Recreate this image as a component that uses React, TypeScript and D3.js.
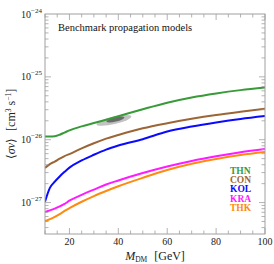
import { useRef, useEffect } from "react";
import * as d3 from "d3";

// dark matter mass grid [GeV]
const masses = [10, 12, 14, 16, 18, 20, 25, 30, 35, 40, 50, 60, 70, 80, 90, 100];

// <sigma v> upper limits, in units of 1e-27 cm^3 s^-1
const thn = [11.3, 11.3, 11.4, 12.0, 13.0, 14.1, 16.3, 18.4, 20.8, 23.6, 30.5, 38.8, 47.0, 54.5, 61.5, 67.6];
const con = [3.56, 4.1, 4.5, 5.0, 5.5, 5.9, 7.3, 8.8, 10.4, 11.9, 15.2, 18.3, 21.5, 24.7, 27.8, 31.0];
const kol = [1.03, 1.71, 2.15, 2.6, 3.08, 3.6, 4.68, 5.76, 6.95, 8.07, 10.2, 13.5, 16.2, 18.8, 21.4, 23.8];
const kra = [0.71, 0.75, 0.8, 0.87, 0.95, 1.07, 1.33, 1.61, 1.94, 2.25, 2.95, 3.75, 4.6, 5.45, 6.3, 7.1];
const thk = [0.505, 0.545, 0.59, 0.655, 0.735, 0.815, 1.03, 1.27, 1.53, 1.82, 2.48, 3.3, 4.15, 4.95, 5.72, 6.38];
const unit = 1e-27;

const modelNames = ["THN", "CON", "KOL", "KRA", "THK"];
const modelValues = [thn, con, kol, kra, thk];
const modelColors = ["#389a38", "#9c6535", "#0a0aff", "#ff1aff", "#ff8a10"];

// best-fit region (GC excess) drawn as an ellipse
const fitMass = 38.2;
const fitSigmaV = 2.03e-26;
const fitCoreMass = 38.8;
const fitCoreSigmaV = 2.1e-26;

const yDecades = [-24, -25, -26, -27];
const xMajor = [20, 40, 60, 80, 100];

const serif = "'Liberation Serif', 'Times New Roman', serif";

export default function App() {
  const svgRef = useRef<SVGSVGElement>(null);

  useEffect(() => {
    if (!svgRef.current) return;
    const svg = d3.select(svgRef.current);
    svg.selectAll("*").remove();

    const width = 274;
    const height = 264;
    const margin = { top: 14, right: 9, bottom: 30, left: 45 };
    const x0 = margin.left;
    const x1 = width - margin.right;
    const y0 = margin.top;
    const y1 = height - margin.bottom;

    const x = d3.scaleLinear().domain([10, 100]).range([x0, x1]);
    const y = d3.scaleLog().domain([Math.pow(10, -27.5), 1e-24]).range([y1, y0]);

    svg.attr("viewBox", `0 0 ${width} ${height}`);

    svg.append("defs")
      .append("clipPath")
      .attr("id", "plot-clip")
      .append("rect")
      .attr("x", x0)
      .attr("y", y0)
      .attr("width", x1 - x0)
      .attr("height", y1 - y0);

    const plot = svg.append("g").attr("clip-path", "url(#plot-clip)");

    // best-fit ellipse
    const cx = x(fitMass);
    const cy = y(fitSigmaV);
    plot.append("ellipse")
      .attr("cx", cx)
      .attr("cy", cy)
      .attr("rx", x(fitMass + 7.3) - cx)
      .attr("ry", y(fitSigmaV / Math.pow(10, 0.06)) - cy)
      .attr("transform", `rotate(-13 ${cx} ${cy})`)
      .attr("fill", "#c2c2c2");
    const ccx = x(fitCoreMass);
    const ccy = y(fitCoreSigmaV);
    plot.append("ellipse")
      .attr("cx", ccx)
      .attr("cy", ccy)
      .attr("rx", x(fitCoreMass + 3.8) - ccx)
      .attr("ry", y(fitCoreSigmaV / Math.pow(10, 0.035)) - ccy)
      .attr("transform", `rotate(-13 ${ccx} ${ccy})`)
      .attr("fill", "#6a6a6a");

    // curves
    const line = d3
      .line<number>()
      .x((_, i) => x(masses[i]))
      .y((d) => y(d * unit))
      .curve(d3.curveMonotoneX);

    modelValues.forEach((vals, i) => {
      plot.append("path")
        .attr("d", line(vals) ?? "")
        .attr("fill", "none")
        .attr("stroke", modelColors[i])
        .attr("stroke-width", 2);
    });

    // frame
    const frameColor = "#a0a0a0";
    svg.append("rect")
      .attr("x", x0)
      .attr("y", y0)
      .attr("width", x1 - x0)
      .attr("height", y1 - y0)
      .attr("fill", "none")
      .attr("stroke", frameColor)
      .attr("stroke-width", 1);

    // y ticks (both sides, pointing inward)
    const isDecade = (v: number) => Math.abs(Math.log10(v) - Math.round(Math.log10(v))) < 1e-6;
    const yTicks = y.ticks();
    yTicks.forEach((v) => {
      const len = isDecade(v) ? 6 : 3.5;
      const py = y(v);
      svg.append("line").attr("x1", x0).attr("x2", x0 + len).attr("y1", py).attr("y2", py)
        .attr("stroke", frameColor).attr("stroke-width", 0.8);
      svg.append("line").attr("x1", x1).attr("x2", x1 - len).attr("y1", py).attr("y2", py)
        .attr("stroke", frameColor).attr("stroke-width", 0.8);
    });

    // x ticks (every 5 GeV, majors at 20s)
    const xTicks = x.ticks(18);
    xTicks.forEach((v) => {
      const len = v % 20 === 0 ? 6 : 3.5;
      const px = x(v);
      svg.append("line").attr("x1", px).attr("x2", px).attr("y1", y1).attr("y2", y1 - len)
        .attr("stroke", frameColor).attr("stroke-width", 0.8);
      svg.append("line").attr("x1", px).attr("x2", px).attr("y1", y0).attr("y2", y0 + len)
        .attr("stroke", frameColor).attr("stroke-width", 0.8);
    });

    // y tick labels
    yDecades.forEach((d) => {
      const t = svg.append("text")
        .attr("x", x0 - 3)
        .attr("y", y(Math.pow(10, d)) + 3.5)
        .attr("text-anchor", "end")
        .attr("font-family", serif)
        .attr("font-size", 10)
        .attr("fill", "#222");
      t.append("tspan").text("10");
      t.append("tspan").attr("dy", -5).attr("font-size", 7).text(`\u2212${-d}`);
    });

    // x tick labels
    xMajor.forEach((v) => {
      svg.append("text")
        .attr("x", x(v))
        .attr("y", y1 + 11)
        .attr("text-anchor", "middle")
        .attr("font-family", serif)
        .attr("font-size", 10)
        .attr("fill", "#222")
        .text(v);
    });

    // x axis label
    const xl = svg.append("text")
      .attr("x", (x0 + x1) / 2)
      .attr("y", height - 4)
      .attr("text-anchor", "middle")
      .attr("font-family", serif)
      .attr("font-size", 12)
      .attr("fill", "#222");
    xl.append("tspan").attr("font-style", "italic").text("M");
    xl.append("tspan").attr("dy", 2).attr("font-size", 7.5).text("DM");
    xl.append("tspan").attr("dy", -2).attr("dx", 7).text("[GeV]");

    // y axis label
    const yl = svg.append("text")
      .attr("transform", `translate(15,${(y0 + y1) / 2}) rotate(-90)`)
      .attr("text-anchor", "middle")
      .attr("font-family", serif)
      .attr("font-size", 12)
      .attr("fill", "#222");
    yl.append("tspan").text("\u27e8");
    yl.append("tspan").attr("font-style", "italic").text("\u03c3v");
    yl.append("tspan").text("\u27e9");
    yl.append("tspan").attr("dx", 7).text("[cm");
    yl.append("tspan").attr("dy", -4).attr("font-size", 7.5).text("3");
    yl.append("tspan").attr("dy", 4).text(" s");
    yl.append("tspan").attr("dy", -4).attr("font-size", 7.5).text("\u22121");
    yl.append("tspan").attr("dy", 4).text("]");

    // title
    svg.append("text")
      .attr("x", 58)
      .attr("y", 31)
      .attr("font-family", serif)
      .attr("font-size", 10.5)
      .attr("fill", "#111")
      .text("Benchmark propagation models");

    // legend
    modelNames.forEach((name, i) => {
      svg.append("text")
        .attr("x", 230)
        .attr("y", 173.5 + i * 9.35)
        .attr("font-family", serif)
        .attr("font-size", 9.5)
        .attr("font-weight", "bold")
        .attr("fill", modelColors[i])
        .text(name);
    });
  }, []);

  return (
    <svg
      ref={svgRef}
      width={274}
      height={264}
      style={{ position: "absolute", left: 0, top: 0, background: "#fff" }}
    />
  );
}
